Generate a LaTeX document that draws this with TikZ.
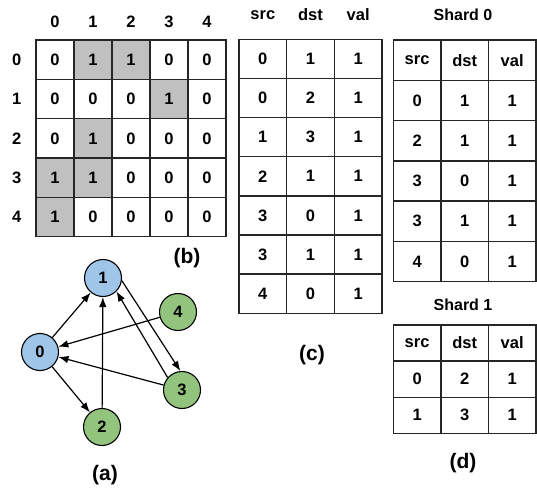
\documentclass[tikz,border=0pt]{standalone}
\usepackage{fontspec}
\setmainfont{Liberation Sans}
\usetikzlibrary{arrows.meta}
\definecolor{cellgray}{HTML}{C0C0C0}
\definecolor{nblue}{HTML}{9FC5E8}
\definecolor{ngreen}{HTML}{93C47D}
\begin{document}
\begin{tikzpicture}[x=1pt,y=-1pt,
  font=\bfseries\fontsize{16.5}{18}\selectfont,
  cellbox/.style={draw=black!85, line width=1.4pt, inner sep=0pt, anchor=center},
  mcell/.style={cellbox, minimum width=38pt, minimum height=39.33pt},
  ccell/.style={cellbox, minimum width=47.67pt, minimum height=39.14pt},
  s0cell/.style={cellbox, minimum width=47.57pt, minimum height=40.28pt},
  s1cell/.style={cellbox, minimum width=47.57pt, minimum height=36.1pt},
  caption/.style={font=\bfseries\fontsize{21}{24}\selectfont},
  title/.style={font=\bfseries\fontsize{16}{18}\selectfont},
  gnode/.style={circle, draw=black, line width=1.1pt, minimum size=37pt, inner sep=0pt},
  edge/.style={-{Latex[length=10pt,width=7.5pt]}, line width=1.2pt}]
\useasboundingbox (0,0) rectangle (537,487);

% ---------- (b) adjacency matrix ----------
\foreach \v [count=\k from 0] in {0,1,1,0,0, 0,0,0,1,0, 0,1,0,0,0, 1,1,0,0,0, 1,0,0,0,0}{
  \pgfmathtruncatemacro\r{\k/5}
  \pgfmathtruncatemacro\ci{mod(\k,5)}
  \def\fillc{white}
  \ifnum\v=1 \def\fillc{cellgray}\fi
  \node[mcell, fill=\fillc] (m-\r-\ci) at (55+38*\ci, 59.67+39.33*\r) {\v};
}
\foreach \c in {0,...,4}{
  \node (cl-\c) at (55+38*\c, 21.7) {\c};
  \node (rl-\c) at (16.7, 59.67+39.33*\c) {\c};
}
\node[caption] (capb) at (187,258) {(b)};

% ---------- (c) edge list ----------
\node (ch-0) at (262.8,15) {src};
\node (ch-1) at (310.5,15) {dst};
\node (ch-2) at (358.2,15) {val};
\foreach \s/\d [count=\r from 0] in {0/1,0/2,1/3,2/1,3/0,3/1,4/0}{
  \node[ccell] (c-\r-0) at (262.8, 58.87+39.14*\r) {\s};
  \node[ccell] (c-\r-1) at (310.5, 58.87+39.14*\r) {\d};
  \node[ccell] (c-\r-2) at (358.2, 58.87+39.14*\r) {1};
}
\node[caption] (capc) at (312,355) {(c)};

% ---------- (d) shards ----------
\node[title] (t0) at (463,15) {Shard 0};
\foreach \s/\d/\v [count=\r from 0] in {src/dst/val,0/1/1,2/1/1,3/0/1,3/1/1,4/0/1}{
  \node[s0cell] (s0-\r-0) at (417.1, 60.14+40.28*\r) {\s};
  \node[s0cell] (s0-\r-1) at (464.7, 60.14+40.28*\r) {\d};
  \node[s0cell] (s0-\r-2) at (512.2, 60.14+40.28*\r) {\v};
}
\node[title] (t1) at (463,305) {Shard 1};
\foreach \s/\d/\v [count=\r from 0] in {src/dst/val,0/2/1,1/3/1}{
  \node[s1cell] (s1-\r-0) at (417.1, 343.05+36.1*\r) {\s};
  \node[s1cell] (s1-\r-1) at (464.7, 343.05+36.1*\r) {\d};
  \node[s1cell] (s1-\r-2) at (512.2, 343.05+36.1*\r) {\v};
}
\node[caption] (capd) at (463,463) {(d)};

% ---------- (a) graph ----------
\node[gnode, fill=nblue] (n1) at (103,278) {1};
\node[gnode, fill=ngreen] (n4) at (178,312) {4};
\node[gnode, fill=nblue] (n0) at (40,352) {0};
\node[gnode, fill=ngreen] (n3) at (182,390) {3};
\node[gnode, fill=ngreen] (n2) at (102,427) {2};
\draw[edge] (n0) -- (n1);
\draw[edge] (n0) -- (n2);
\draw[edge] (n2) -- (n1);
\draw[edge] (n4) -- (n0);
\draw[edge] (n3) -- (n0);
\draw[edge] (n1.-8) -- (n3.95);
\draw[edge] (n3.139) -- (n1.-45);
\node[caption] (capa) at (105,475) {(a)};
\end{tikzpicture}
\end{document}
